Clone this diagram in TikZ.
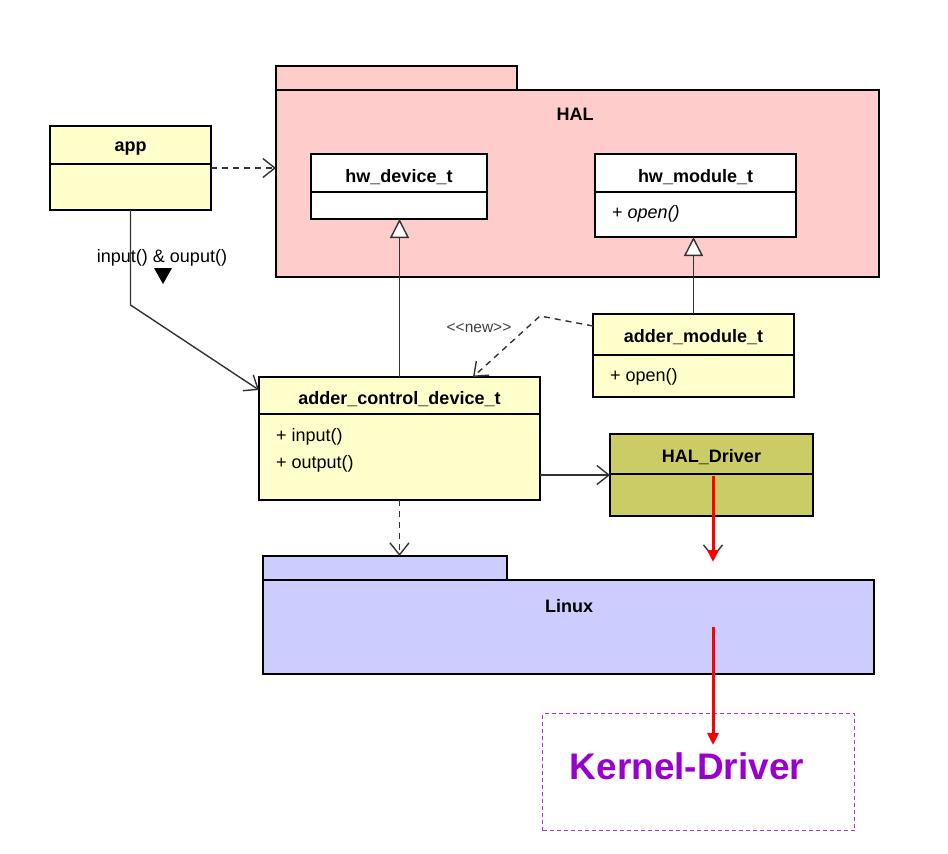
\documentclass[tikz,border=0pt]{standalone}
\usepackage{fontspec}
\setmainfont{Liberation Sans}
\usetikzlibrary{arrows.meta}
\definecolor{clsyellow}{HTML}{FFFFCC}
\definecolor{halpink}{HTML}{FFCCCC}
\definecolor{linuxblue}{HTML}{CCCCFF}
\definecolor{drvolive}{HTML}{CCCC66}
\definecolor{kpurple}{HTML}{9900CC}
\begin{document}
\begin{tikzpicture}[x=1pt,y=-1pt,
  every node/.style={font=\fontsize{18}{21}\selectfont, inner sep=0pt},
  cls/.style={draw=black, line width=2.7pt, anchor=north west, inner sep=0pt, outer sep=0pt},
  sep/.style={line width=1.3pt},
  title/.style={font=\fontsize{18}{21}\selectfont\bfseries},
  member/.style={anchor=west},
  conn/.style={line width=1.4pt, draw=black!80},
  dep/.style={conn, dash pattern=on 6pt off 5pt},
  opentip/.style={-{Straight Barb[length=12pt,width=19pt]}},
  gentip/.style={-{Triangle[length=19pt,width=19pt,fill=white]}},
  redarrow/.style={draw=red, line width=3pt, -{Triangle[length=12pt,width=11pt]}}
]
\useasboundingbox (0,0) rectangle (948,854);

% HAL package
\node[cls, fill=halpink, minimum width=241pt, minimum height=24pt] (haltab) at (276,66) {};
\node[cls, fill=halpink, minimum width=603pt, minimum height=187pt] (halbody) at (276,90) {};
\node[title] (hallbl) at (575,114) {HAL};

% Linux package
\node[cls, fill=linuxblue, minimum width=244pt, minimum height=24pt] (linuxtab) at (263,556) {};
\node[cls, fill=linuxblue, minimum width=611pt, minimum height=94pt] (linuxbody) at (263,580) {};
\node[title] (linuxlbl) at (569,606) {Linux};

% app
\node[cls, fill=clsyellow, minimum width=161pt, minimum height=84pt] (app) at (50,126) {};
\draw[sep] ([yshift=-38pt]app.north west) -- ([yshift=-38pt]app.north east);
\node[title] (appname) at ([yshift=-23pt]app.north) {app};

% hw_device_t
\node[cls, fill=white, minimum width=176pt, minimum height=65pt] (hwdev) at (311,154) {};
\draw[sep] ([yshift=-38pt]hwdev.north west) -- ([yshift=-38pt]hwdev.north east);
\node[title] (hwdevname) at ([yshift=-23pt]hwdev.north) {hw\_device\_t};

% hw_module_t
\node[cls, fill=white, minimum width=201pt, minimum height=83pt] (hwmod) at (595,154) {};
\draw[sep] ([yshift=-38pt]hwmod.north west) -- ([yshift=-38pt]hwmod.north east);
\node[title] (hwmodname) at ([yshift=-23pt]hwmod.north) {hw\_module\_t};
\node[member] (hwmodopen) at (612,214) {+ \textit{open()}};

% adder_module_t
\node[cls, fill=clsyellow, minimum width=201pt, minimum height=83pt] (am) at (593,314) {};
\draw[sep] ([yshift=-41pt]am.north west) -- ([yshift=-41pt]am.north east);
\node[title] (amname) at ([yshift=-23pt]am.north) {adder\_module\_t};
\node[member] (amopen) at (610,377) {+ open()};

% adder_control_device_t
\node[cls, fill=clsyellow, minimum width=281pt, minimum height=123pt] (acd) at (259,377) {};
\draw[sep] ([yshift=-37pt]acd.north west) -- ([yshift=-37pt]acd.north east);
\node[title] (acdname) at ([yshift=-22pt]acd.north) {adder\_control\_device\_t};
\node[member] (acdin) at (276,437) {+ input()};
\node[member] (acdout) at (276,464) {+ output()};

% HAL_Driver
\node[cls, fill=drvolive, minimum width=203pt, minimum height=82pt] (drv) at (610,434) {};
\draw[sep] ([yshift=-40pt]drv.north west) -- ([yshift=-40pt]drv.north east);
\node[title] (drvname) at ([yshift=-23pt]drv.north) {HAL\_Driver};

% Kernel-Driver
\node[draw=kpurple!80!white, line width=1pt, dash pattern=on 4pt off 3pt, anchor=north west,
      minimum width=312pt, minimum height=117pt] (kbox) at (542,713) {};
\node[font=\fontsize{37}{40}\selectfont\bfseries, text=kpurple] (klbl) at (687,766) {Kernel-Driver};

% connectors
\draw[dep, opentip] (app.east) -- (app.east -| halbody.west);
\draw[conn, opentip] (app.south) -- ++(0,95) -- ([yshift=-13pt]acd.north west);
\node (iolbl) at (162,258) {input() \& ouput()};
\fill (154,268) -- (172,268) -- (163,284) -- cycle;
\draw[conn, gentip] (acd.north) -- (acd.north |- hwdev.south);
\draw[conn, gentip] (am.north) -- (am.north |- hwmod.south);
\coordinate (bend) at (540,316);
\draw[dep, opentip] ([yshift=-12pt]am.north west) -- (bend) -- ([xshift=214pt]acd.north west);
\node[font=\fontsize{15.5}{18}\selectfont, text=black!75] (newlbl) at (479,328) {{<}{<}new{>}{>}};
\draw[conn, opentip] (drv.west -| acd.east) -- (drv.west);
\draw[dep, opentip] (acd.south) -- (acd.south |- linuxtab.north);

\coordinate (r1s) at (713,476);
\coordinate (r1e) at (713,562);
\coordinate (r2s) at (713,627);
\coordinate (r2e) at (713,745);
\draw[conn, opentip] ([yshift=20pt]r1e) -- ([yshift=4pt]r1e);
\draw[redarrow] (r1s) -- (r1e);
\draw[redarrow] (r2s) -- (r2e);
\end{tikzpicture}
\end{document}
